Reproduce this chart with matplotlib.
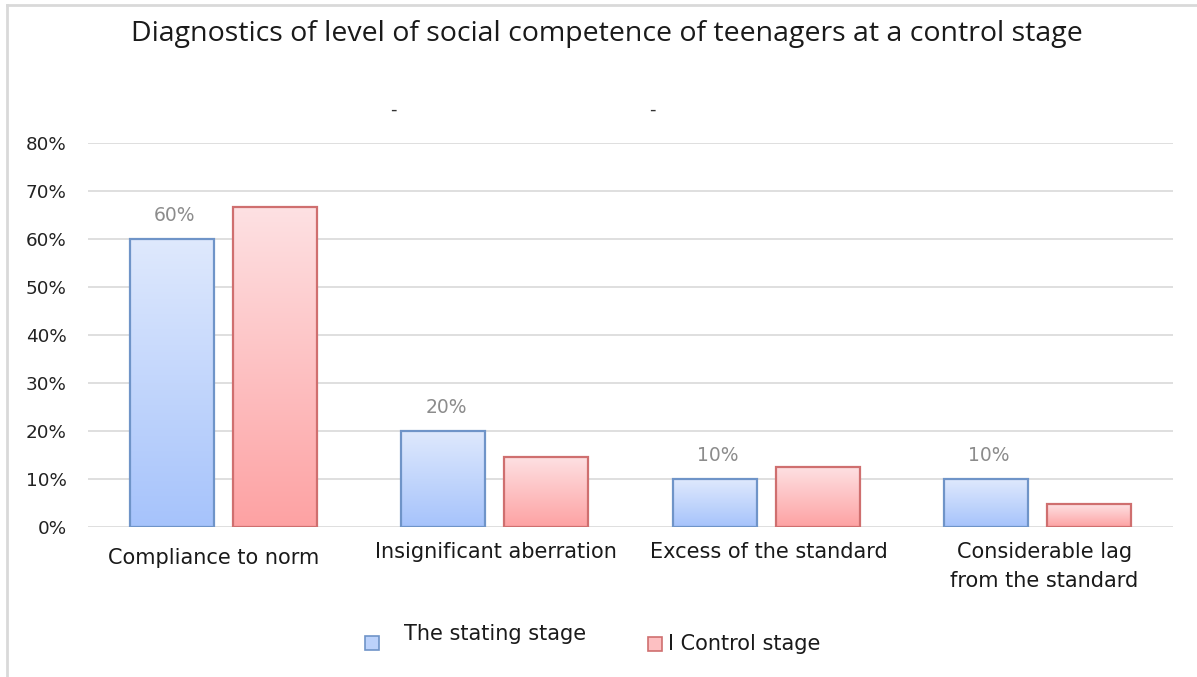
import matplotlib
matplotlib.use("Agg")
import matplotlib.pyplot as plt
import numpy as np
from matplotlib.colors import LinearSegmentedColormap
from matplotlib.patches import Rectangle
from matplotlib.ticker import PercentFormatter

categories = ["Compliance to norm", "Insignificant aberration",
              "Excess of the standard", "Considerable lag\nfrom the standard"]
stating = [60, 20, 10, 10]
control = [66.7, 14.6, 12.5, 4.7]
series_names = ["The stating stage", "I Control stage"]
yticks = [0, 10, 20, 30, 40, 50, 60, 70, 80]
title = "Diagnostics of level of social competence of teenagers at a control stage"

W, H = 1197, 677
LF = "DejaVu Sans"
fig = plt.figure(figsize=(W / 100, H / 100), dpi=100)
fig.patch.set_facecolor("white")

# outer frame
fig.add_artist(plt.Line2D([7 / W, 7 / W], [0, 1 - 5 / H], transform=fig.transFigure,
                          color="#d9d9d9", lw=2.0))
fig.add_artist(plt.Line2D([7 / W, 1], [1 - 5 / H, 1 - 5 / H], transform=fig.transFigure,
                          color="#d9d9d9", lw=2.0))

ax = fig.add_axes([88 / W, (H - 527) / H, (1173 - 88) / W, (527 - 143) / H])
for s in ax.spines.values():
    s.set_visible(False)
ax.set_yticks(yticks)
ax.yaxis.set_major_formatter(PercentFormatter(decimals=0))
ax.tick_params(axis="y", length=0, pad=15.5, labelsize=13.2, labelcolor="#222222")
ax.set_xticks([])
ax.grid(axis="y", color="#d9d9d9", lw=1.2)
ax.set_axisbelow(True)
for lab in ax.get_yticklabels():
    lab.set_fontfamily(LF)

x = np.arange(len(categories))
bw = 0.31
off = 0.19
blue_cmap = LinearSegmentedColormap.from_list("b", ["#a6c3fb", "#dfe9fd"])
red_cmap = LinearSegmentedColormap.from_list("r", ["#fea2a3", "#fde1e3"])

b1 = ax.bar(x - off, stating, bw, facecolor="none", edgecolor="#6f94c8", lw=1.6, zorder=3)
b2 = ax.bar(x + off, control, bw, facecolor="none", edgecolor="#cf6f6f", lw=1.6, zorder=3)

grad = np.linspace(0, 1, 256).reshape(-1, 1)
for bars, cmap in ((b1, blue_cmap), (b2, red_cmap)):
    for p in bars:
        x0, y0 = p.get_x(), p.get_y()
        w, h = p.get_width(), p.get_height()
        im = ax.imshow(grad, cmap=cmap, origin="lower", aspect="auto",
                       extent=[x0, x0 + w, y0, y0 + h], zorder=2)
        im.set_clip_path(p)
ax.set_xlim(-0.5, len(categories) - 0.5)
ax.set_ylim(0, 80)

for xi, v in zip(x, stating):
    ax.annotate(f"{v:.0f}%", (xi - off, v), xytext=(2, 10), textcoords="offset points",
                ha="center", va="bottom", fontsize=13.5, color="#8c8c8c", family=LF)

# category labels
label_y = [560, 554, 554, 554]
label_dx = [-10, 1, 3, 7]
for xi, cat, ly, dx in zip(x, categories, label_y, label_dx):
    xd = ax.transData.transform((xi, 0))[0] + dx
    fig.text(xd / W, 1 - (ly - 12) / H, cat, ha="center", va="top", fontsize=15,
             family=LF, color="#1a1a1a", linespacing=1.55)

fig.text(607 / W, 1 - 34 / H, title, ha="center", va="center", fontsize=20.5,
         family="Open Sans", color="#1a1a1a")
fig.text(393 / W, 1 - 110 / H, "-", ha="center", va="center", fontsize=13, color="#333333")
fig.text(652 / W, 1 - 110 / H, "-", ha="center", va="center", fontsize=13, color="#333333")

# legend
fig.add_artist(Rectangle((365 / W, 1 - 650 / H), 14 / W, 14 / H, transform=fig.transFigure,
                         facecolor="#bcd2fb", edgecolor="#6f94c8", lw=1.2))
fig.text(404 / W, 1 - 634 / H, series_names[0], ha="left", va="center", fontsize=15,
         family=LF, color="#1a1a1a")
fig.add_artist(Rectangle((648 / W, 1 - 651 / H), 14 / W, 14 / H, transform=fig.transFigure,
                         facecolor="#fdc0c2", edgecolor="#cf6f6f", lw=1.2))
fig.text(668 / W, 1 - 644 / H, series_names[1], ha="left", va="center", fontsize=15,
         family=LF, color="#1a1a1a")

fig.savefig("out.png", dpi=100)
